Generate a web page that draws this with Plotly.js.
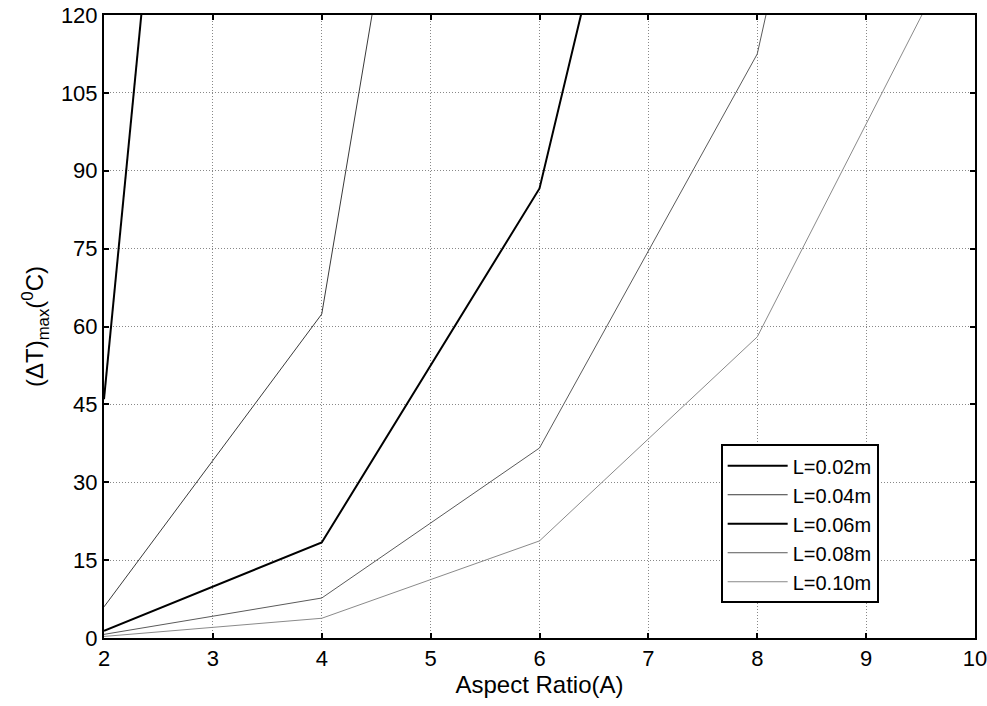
<!DOCTYPE html>
<html>
<head>
<meta charset="utf-8">
<script src="https://cdn.plot.ly/plotly-3.0.1.min.js"></script>
<style>html,body{margin:0;padding:0;background:#fff;}#chart{width:987px;height:706px;}</style>
</head>
<body>
<div id="chart"></div>
<script>
// Aspect ratio values
const aspectRatio = [2, 4, 6, 8, 10];
// (ΔT)max values per length L (values beyond 120 lie off the plotted range)
const dT_L002 = [46, 478];
const dT_L004 = [6.0, 62.4, 312];
const dT_L006 = [1.4, 18.4, 86.6, 262];
const dT_L008 = [0.7, 7.7, 36.6, 112.5, 300];
const dT_L010 = [0.3, 3.8, 18.7, 58, 140];
const seriesNames = ['L=0.02m', 'L=0.04m', 'L=0.06m', 'L=0.08m', 'L=0.10m'];
const xTicks = [2, 3, 4, 5, 6, 7, 8, 9, 10];
const yTicks = [0, 15, 30, 45, 60, 75, 90, 105, 120];

const series = [dT_L002, dT_L004, dT_L006, dT_L008, dT_L010];
const colors = ['#000000', '#3a3a3a', '#000000', '#5a5a5a', '#8a8a8a'];
const widths = [2, 1, 2, 1, 1];

const traces = series.map((ys, i) => ({
  x: aspectRatio.slice(0, ys.length),
  y: ys,
  name: seriesNames[i],
  type: 'scatter',
  mode: 'lines',
  line: {color: colors[i], width: widths[i]}
}));

const FONT = 'Liberation Sans, Arial, sans-serif';
const axisCommon = {
  showline: true, linecolor: '#000', linewidth: 2, mirror: 'ticks',
  ticks: 'inside', ticklen: 5, tickwidth: 2, tickcolor: '#000',
  showgrid: true, gridcolor: '#888', griddash: '1px,2px', gridwidth: 1,
  zeroline: false,
  ticklabeloverflow: 'allow',
  tickfont: {family: FONT, size: 22, color: '#000'}
};

const layout = {
  width: 987, height: 706,
  margin: {l: 104, r: 12, t: 15, b: 68},
  paper_bgcolor: '#fff', plot_bgcolor: '#fff',
  font: {family: FONT, size: 22, color: '#000'},
  showlegend: true,
  legend: {
    x: 0.708, y: 0.311, xanchor: 'left', yanchor: 'top',
    bgcolor: '#fff', bordercolor: '#000', borderwidth: 2,
    font: {family: FONT, size: 20, color: '#000'},
    itemwidth: 60, tracegroupgap: 0
  },
  xaxis: Object.assign({}, axisCommon, {
    range: [2, 10], tickvals: xTicks, ticktext: xTicks.map(String),
    title: {text: 'Aspect Ratio(A)', font: {family: FONT, size: 24}, standoff: 4}
  }),
  yaxis: Object.assign({}, axisCommon, {
    range: [0, 120], tickvals: yTicks, ticktext: yTicks.map(String),
    title: {text: '(ΔT)<sub>max</sub>(<sup>0</sup>C)', font: {family: FONT, size: 24}, standoff: 10}
  })
};

Plotly.newPlot('chart', traces, layout, {displayModeBar: false, staticPlot: true});
</script>
</body>
</html>
